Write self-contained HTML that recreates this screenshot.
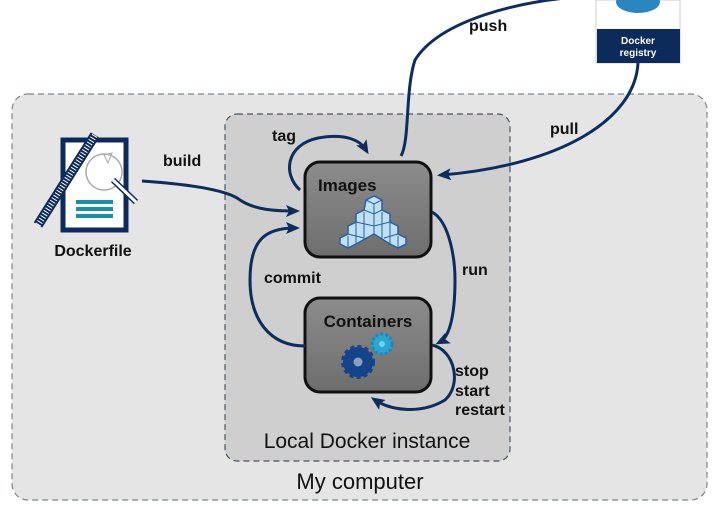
<!DOCTYPE html>
<html><head><meta charset="utf-8"><style>
html,body{margin:0;padding:0;background:#fff;}
svg{display:block;font-family:"Liberation Sans",sans-serif;}
</style></head><body>
<svg width="713" height="507" viewBox="0 0 713 507" xmlns="http://www.w3.org/2000/svg">
<defs>
<marker id="ah" markerWidth="14" markerHeight="12" refX="9" refY="6" orient="auto" markerUnits="userSpaceOnUse">
<path d="M0,0 L14,6 L0,12 L3,6 z" fill="#0d2d5c"/>
</marker>
<linearGradient id="bg" x1="0" y1="0" x2="0" y2="1"><stop offset="0" stop-color="#8c8c8c"/><stop offset="1" stop-color="#6e6e6e"/></linearGradient>
</defs>
<rect x="12" y="94" width="695" height="406" rx="16" fill="#e5e5e5" stroke="#7a8590" stroke-width="1.2" stroke-dasharray="6,4"/>
<rect x="225" y="114" width="285" height="347" rx="12" fill="#cfcfcf" stroke="#4a5560" stroke-width="1.2" stroke-dasharray="6,4"/>
<text x="367" y="448" font-size="21" text-anchor="middle" fill="#111">Local Docker instance</text>
<text x="360" y="489" font-size="22" text-anchor="middle" fill="#111">My computer</text>

<!-- registry -->
<rect x="596" y="0" width="84" height="63" fill="#fff" stroke="#ccc"/>
<ellipse cx="638" cy="2" rx="22" ry="11" fill="#2a86c0"/>
<rect x="597" y="29" width="83" height="34" fill="#0c2a5a"/>
<text x="638" y="44" font-size="10" font-weight="bold" fill="#fff" text-anchor="middle">Docker</text>
<text x="638" y="56" font-size="10" font-weight="bold" fill="#fff" text-anchor="middle">registry</text>

<!-- Dockerfile icon -->
<rect x="63" y="140" width="63" height="90" fill="#fff" stroke="#0c2a5a" stroke-width="5"/>
<rect x="76" y="200" width="37" height="4" fill="#1a8fa8"/>
<rect x="76" y="207" width="37" height="4" fill="#1a8fa8"/>
<rect x="76" y="214" width="37" height="4" fill="#1a8fa8"/>
<circle cx="104" cy="172" r="18" fill="none" stroke="#aaa" stroke-width="1.5"/>
<path d="M104,155 L112,153 L108,163 z" fill="none" stroke="#aaa"/>
<line x1="113" y1="180" x2="136" y2="202" stroke="#0c2a5a" stroke-width="6"/>
<line x1="113" y1="180" x2="136" y2="202" stroke="#fff" stroke-width="3"/>
<line x1="38" y1="225" x2="95" y2="135" stroke="#0c2a5a" stroke-width="10"/>
<line x1="38" y1="225" x2="95" y2="135" stroke="#fff" stroke-width="6" stroke-dasharray="1,2"/>
<text x="93" y="256" font-size="16" font-weight="bold" text-anchor="middle" fill="#111">Dockerfile</text>

<!-- Images box -->
<rect x="305" y="162" width="126" height="95" rx="15" fill="url(#bg)" stroke="#111" stroke-width="3"/>
<text x="318" y="191" font-size="17" font-weight="bold" fill="#111">Images</text>
<path d="M366,200 L374,196 L382,200 L382,210 L390,214 L390,222 L398,226 L398,234 L406,238 L406,244 L398,248 L390,244 L374,234 L356,244 L348,248 L340,244 L340,238 L348,234 L348,226 L356,222 L356,214 L364,210 z" fill="#bfe0f5" stroke="#2a5fa0" stroke-width="1.5"/>
<path d="M366,200 L374,204 L382,200 M374,204 L374,234 M364,210 L374,214 L382,210 M356,222 L374,226 L390,222 M348,234 L364,238 M398,234 L384,238 M356,214 L356,244 M390,214 L390,244 M364,212 L364,240 M382,212 L382,240 M348,236 L348,248 M398,236 L398,248" fill="none" stroke="#2a5fa0" stroke-width="1"/>

<!-- Containers box -->
<rect x="305" y="298" width="126" height="94" rx="15" fill="url(#bg)" stroke="#111" stroke-width="3"/>
<text x="368" y="327" font-size="17" font-weight="bold" fill="#111" text-anchor="middle">Containers</text>
<circle cx="382" cy="344" r="10" fill="#2aa6d4" stroke="#1c8ab8" stroke-width="3" stroke-dasharray="3,2"/>
<circle cx="382" cy="344" r="3" fill="#7acde8"/>
<circle cx="358" cy="362" r="15" fill="#14448c" stroke="#14448c" stroke-width="4" stroke-dasharray="4,3"/>
<circle cx="358" cy="362" r="5" fill="#8aa0c0" stroke="#14448c"/>

<!-- arrows -->
<g fill="none" stroke="#0d2d5c" stroke-width="3">
<path d="M300,190 C283,175 285,145 318,138 C345,133 360,140 366,150" marker-end="url(#ah)"/>
<path d="M401,156 C410,140 405,90 415,60 C440,20 520,0 590,-4"/>
<path d="M638,63 C635,120 560,165 442,175" marker-end="url(#ah)"/>
<path d="M142,181 C200,185 230,192 240,200 C255,210 275,211 295,211" marker-end="url(#ah)"/>
<path d="M305,346 C270,346 250,320 250,280 C250,240 265,228 295,228" marker-end="url(#ah)"/>
<path d="M432,212 C450,222 455,260 455,280 C455,320 448,338 440,342" marker-end="url(#ah)"/>
<path d="M432,345 C455,350 462,385 445,400 C420,415 390,410 375,400" marker-end="url(#ah)"/>
</g>

<g font-size="16" font-weight="bold" fill="#111">
<text x="469" y="31">push</text>
<text x="550" y="134">pull</text>
<text x="163" y="166">build</text>
<text x="272" y="141">tag</text>
<text x="462" y="275">run</text>
<text x="264" y="283">commit</text>
<text x="455" y="376">stop</text>
<text x="455" y="396">start</text>
<text x="455" y="415">restart</text>
</g>
</svg>
</body></html>
